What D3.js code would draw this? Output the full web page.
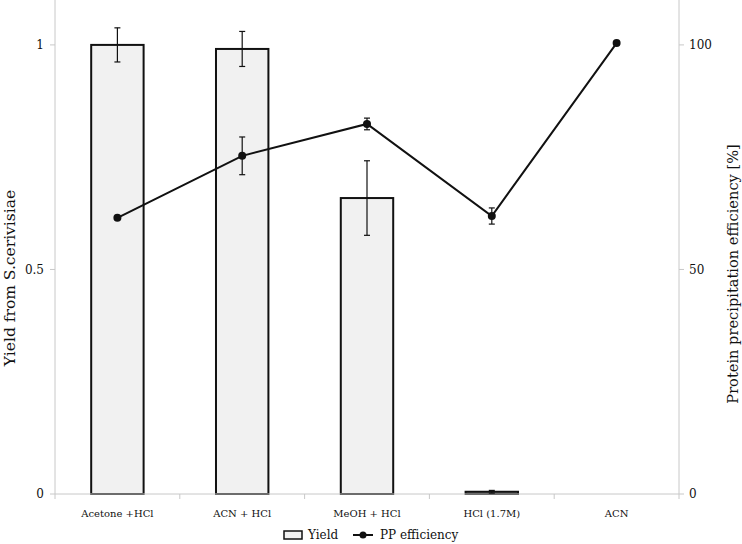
<!DOCTYPE html>
<html>
<head>
<meta charset="utf-8">
<script src="https://cdn.jsdelivr.net/npm/d3@7"></script>
<style>
  body { margin: 0; background: #fff; }
  text { font-family: "DejaVu Serif", serif; fill: #111; }
</style>
</head>
<body>
<svg id="chart" width="742" height="544"></svg>
<script>
// values
const categories = ["Acetone +HCl", "ACN + HCl", "MeOH + HCl", "HCl (1.7M)", "ACN"];
const yieldValues = [1.0, 0.991, 0.659, 0.005, 0];
const yieldErrors = [0.038, 0.039, 0.083, 0.003, 0];
const ppValues = [61.5, 75.3, 82.4, 61.9, 100.4];
const ppErrors = [0, 4.2, 1.3, 1.8, 0];
const leftTicks = [0, 0.5, 1];
const rightTicks = [0, 50, 100];

const svg = d3.select("#chart");
const plotL = 55, plotR = 679, plotT = 0, plotB = 494;

const x = d3.scaleBand()
  .domain(categories)
  .range([plotL, plotR])
  .paddingInner(0.58)
  .paddingOuter(0.29);

const yL = d3.scaleLinear().domain([0, 1.1]).range([plotB, plotT]);
const yR = d3.scaleLinear().domain([0, 110]).range([plotB, plotT]);

// axes lines
const axisColor = "#c8c8c8";
svg.append("line").attr("x1", plotL).attr("x2", plotL).attr("y1", plotT).attr("y2", plotB)
  .attr("stroke", axisColor);
svg.append("line").attr("x1", plotR).attr("x2", plotR).attr("y1", plotT).attr("y2", plotB)
  .attr("stroke", axisColor);

// left ticks
leftTicks.forEach(t => {
  svg.append("line").attr("x1", plotL - 5).attr("x2", plotL).attr("y1", yL(t)).attr("y2", yL(t))
    .attr("stroke", axisColor);
  svg.append("text").attr("x", plotL - 11).attr("y", yL(t)).attr("dy", "0.35em")
    .attr("text-anchor", "end").attr("font-size", 12).text(t);
});
// right ticks
rightTicks.forEach(t => {
  svg.append("line").attr("x1", plotR).attr("x2", plotR + 5).attr("y1", yR(t)).attr("y2", yR(t))
    .attr("stroke", axisColor);
  svg.append("text").attr("x", plotR + 10).attr("y", yR(t)).attr("dy", "0.35em")
    .attr("text-anchor", "start").attr("font-size", 12).text(t);
});

// bars
svg.selectAll(".bar")
  .data(categories.map((c, i) => ({ c, v: yieldValues[i], e: yieldErrors[i] })))
  .enter().append("rect")
  .attr("class", "bar")
  .attr("x", d => x(d.c))
  .attr("width", x.bandwidth())
  .attr("y", d => yL(d.v))
  .attr("height", d => plotB - yL(d.v))
  .attr("fill", d => d.v < 0.02 ? "#888" : "#f1f1f1")
  .attr("stroke", "#111")
  .attr("stroke-width", 2)
  .style("display", d => d.v > 0 ? null : "none");

// baseline + x ticks
svg.append("line").attr("x1", plotL).attr("x2", plotR).attr("y1", plotB).attr("y2", plotB)
  .attr("stroke", axisColor);
d3.range(0, categories.length + 1).forEach(i => {
  const xx = plotL + (plotR - plotL) / categories.length * i;
  svg.append("line").attr("x1", xx).attr("x2", xx).attr("y1", plotB).attr("y2", plotB + 5)
    .attr("stroke", axisColor);
});

// x labels
categories.forEach(c => {
  svg.append("text").attr("x", x(c) + x.bandwidth() / 2).attr("y", 517)
    .attr("text-anchor", "middle").attr("font-size", 10).text(c);
});

// error bars helper
function errBar(cx, y1, y2) {
  svg.append("line").attr("x1", cx).attr("x2", cx).attr("y1", y1).attr("y2", y2)
    .attr("stroke", "#111").attr("stroke-width", 1.2);
  [y1, y2].forEach(yy => svg.append("line").attr("x1", cx - 3).attr("x2", cx + 3)
    .attr("y1", yy).attr("y2", yy).attr("stroke", "#111").attr("stroke-width", 1.2));
}
const cx = c => x(c) + x.bandwidth() / 2;

categories.forEach((c, i) => {
  if (yieldErrors[i] > 0) errBar(cx(c), yL(yieldValues[i] + yieldErrors[i]), yL(yieldValues[i] - yieldErrors[i]));
});

// PP line
const line = d3.line().x((d, i) => cx(categories[i])).y(d => yR(d));
svg.append("path").datum(ppValues).attr("d", line)
  .attr("fill", "none").attr("stroke", "#111").attr("stroke-width", 2);
categories.forEach((c, i) => {
  if (ppErrors[i] > 0) errBar(cx(c), yR(ppValues[i] + ppErrors[i]), yR(ppValues[i] - ppErrors[i]));
});
svg.selectAll(".pt").data(ppValues).enter().append("circle")
  .attr("cx", (d, i) => cx(categories[i])).attr("cy", d => yR(d)).attr("r", 4).attr("fill", "#111");

// axis titles
svg.append("text").attr("transform", "translate(15,278) rotate(-90)")
  .attr("text-anchor", "middle").attr("font-size", 15.5).text("Yield from S.cerivisiae");
svg.append("text").attr("transform", "translate(738,274) rotate(-90)")
  .attr("text-anchor", "middle").attr("font-size", 14.6).text("Protein precipitation efficiency [%]");

// legend
const lg = svg.append("g").attr("transform", "translate(0,535)");
lg.append("rect").attr("x", 284).attr("y", -4).attr("width", 18).attr("height", 8)
  .attr("fill", "#f1f1f1").attr("stroke", "#111").attr("stroke-width", 1.5);
lg.append("text").attr("x", 308).attr("y", 0).attr("dy", "0.35em").attr("font-size", 12).text("Yield");
lg.append("line").attr("x1", 353).attr("x2", 373).attr("y1", 0).attr("y2", 0)
  .attr("stroke", "#111").attr("stroke-width", 2);
lg.append("circle").attr("cx", 363).attr("cy", 0).attr("r", 3.5).attr("fill", "#111");
lg.append("text").attr("x", 380).attr("y", 0).attr("dy", "0.35em").attr("font-size", 12).text("PP efficiency");
</script>
</body>
</html>
